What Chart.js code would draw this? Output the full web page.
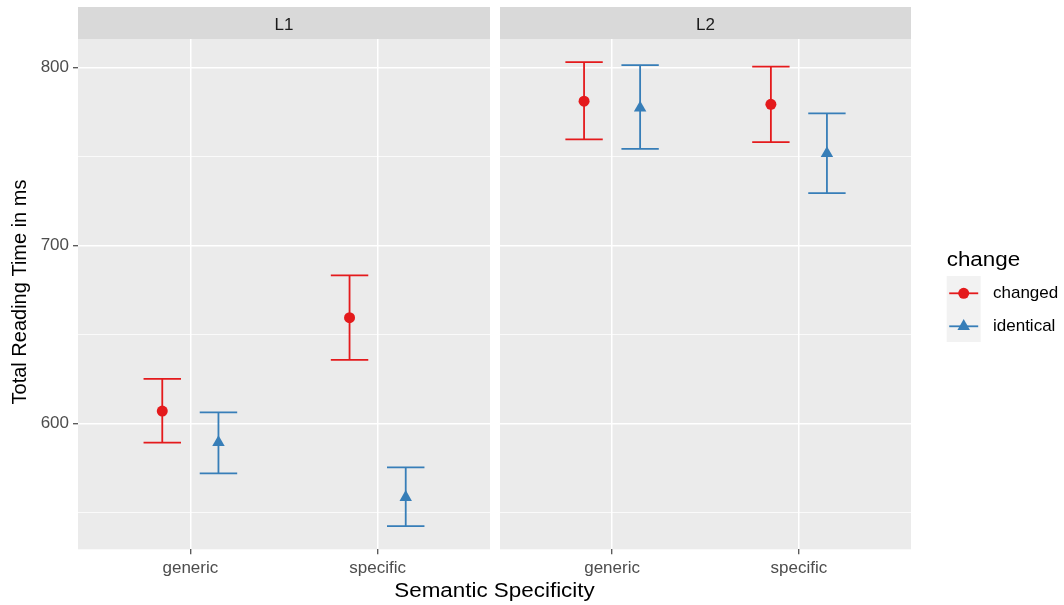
<!DOCTYPE html>
<html>
<head>
<meta charset="utf-8">
<script src="https://cdn.jsdelivr.net/npm/chart.js@4.4.1/dist/chart.umd.min.js"></script>
<style>
  html, body { margin: 0; padding: 0; background: #ffffff; }
  body { width: 1064px; height: 605px; position: relative; overflow: hidden;
         font-family: 'Liberation Sans', Arial, sans-serif; }
  canvas { position: absolute; top: 0; }
  #xtitle { position: absolute; left: 78px; width: 833px; top: 580px; height: 21px;
            line-height: 21px; font-size: 20px; text-align: center; color: #000;
            transform: scaleX(1.12); transform-origin: 50% 50%; white-space: nowrap; }
</style>
</head>
<body>
<canvas id="panelL1" width="490" height="605" style="left:0px"></canvas>
<canvas id="panelL2" width="574" height="605" style="left:490px"></canvas>
<div id="xtitle">Semantic Specificity</div>
<script>
// ---- data -------------------------------------------------------------
const categories = ['generic', 'specific'];
const panels = ['L1', 'L2'];
const groups = ['changed', 'identical'];
const yTicksMajor = [600, 700, 800];
const yTicksMinor = [550, 650, 750];

// mean reading time and its interval (lower / upper), per category
const l1ChangedMean   = [607.0, 659.5];
const l1ChangedLower  = [589.2, 635.8];
const l1ChangedUpper  = [625.1, 683.3];
const l1IdenticalMean  = [589.3, 558.5];
const l1IdenticalLower = [571.9, 542.3];
const l1IdenticalUpper = [606.2, 575.3];

const l2ChangedMean   = [781.2, 779.4];
const l2ChangedLower  = [759.7, 758.2];
const l2ChangedUpper  = [803.1, 800.6];
const l2IdenticalMean  = [777.4, 751.8];
const l2IdenticalLower = [754.4, 729.5];
const l2IdenticalUpper = [801.5, 774.3];

// ---- styling ----------------------------------------------------------
const FONT = "'Liberation Sans', Arial, sans-serif";
Chart.defaults.font.family = FONT;
const COLORS = { changed: '#E41A1C', identical: '#377EB8' };
const SHAPES = { changed: 'circle', identical: 'triangle' };
const RADII  = { changed: 5.5, identical: 7.2 };
const DODGE = 0.3;      // horizontal separation of the two groups
const CAP = 0.2;        // error bar cap width (in category units)
const BAR_WIDTH = 1.8;
const PANEL_BG = '#EBEBEB';
const STRIP_BG = '#D9D9D9';
const TICK_TEXT = '#4D4D4D';
const PANEL_TOP = 39, PANEL_BOTTOM = 549.3, STRIP_TOP = 7;
const CANVAS_H = 605;

const seriesByPanel = {
  L1: {
    changed:   { mean: l1ChangedMean,   lower: l1ChangedLower,   upper: l1ChangedUpper },
    identical: { mean: l1IdenticalMean, lower: l1IdenticalLower, upper: l1IdenticalUpper }
  },
  L2: {
    changed:   { mean: l2ChangedMean,   lower: l2ChangedLower,   upper: l2ChangedUpper },
    identical: { mean: l2IdenticalMean, lower: l2IdenticalLower, upper: l2IdenticalUpper }
  }
};

// shared y range: data extent plus 5% on each side
const allBounds = [l1ChangedLower, l1ChangedUpper, l1IdenticalLower, l1IdenticalUpper,
                   l2ChangedLower, l2ChangedUpper, l2IdenticalLower, l2IdenticalUpper].flat();
const dataMin = Math.min(...allBounds), dataMax = Math.max(...allBounds);
const yMin = dataMin - 0.05 * (dataMax - dataMin);
const yMax = dataMax + 0.05 * (dataMax - dataMin);

function buildDatasets(series) {
  return groups.map((g, gi) => ({
    label: g,
    data: categories.map((c, ci) => ({ x: ci + 1 + (gi - 0.5) * DODGE, y: series[g].mean[ci] })),
    low: series[g].lower,
    high: series[g].upper,
    pointStyle: SHAPES[g],
    pointRadius: RADII[g],
    pointHoverRadius: RADII[g],
    backgroundColor: COLORS[g],
    borderColor: COLORS[g],
    borderWidth: 0,
    showLine: false
  }));
}

function drawTriangle(ctx, x, y, r) {
  ctx.beginPath();
  for (let k = 0; k < 3; k++) {
    const a = -Math.PI / 2 + k * 2 * Math.PI / 3;
    const px = x + r * Math.cos(a), py = y + r * Math.sin(a);
    if (k === 0) ctx.moveTo(px, py); else ctx.lineTo(px, py);
  }
  ctx.closePath();
  ctx.fill();
}

// panel background + facet strip
const panelFrame = {
  id: 'panelFrame',
  beforeDraw(chart) {
    const { ctx, chartArea: a } = chart;
    ctx.save();
    ctx.fillStyle = PANEL_BG;
    ctx.fillRect(a.left, a.top, a.right - a.left, a.bottom - a.top);
    ctx.fillStyle = STRIP_BG;
    ctx.fillRect(a.left, STRIP_TOP, a.right - a.left, a.top - STRIP_TOP);
    ctx.fillStyle = '#1A1A1A';
    ctx.font = '17px ' + FONT;
    ctx.textAlign = 'center';
    ctx.textBaseline = 'alphabetic';
    ctx.fillText(chart.options.plugins.panelFrame.label, (a.left + a.right) / 2, 29.5);
    ctx.restore();
  }
};

// vertical interval bars with caps
const errorBars = {
  id: 'errorBars',
  beforeDatasetsDraw(chart) {
    const { ctx } = chart;
    const xs = chart.scales.x, ys = chart.scales.y;
    ctx.save();
    ctx.lineWidth = BAR_WIDTH;
    ctx.lineCap = 'butt';
    chart.data.datasets.forEach(ds => {
      ctx.strokeStyle = ds.borderColor;
      ds.data.forEach((p, i) => {
        const x = xs.getPixelForValue(p.x);
        const xl = xs.getPixelForValue(p.x - CAP / 2);
        const xr = xs.getPixelForValue(p.x + CAP / 2);
        const yl = ys.getPixelForValue(ds.low[i]);
        const yh = ys.getPixelForValue(ds.high[i]);
        ctx.beginPath();
        ctx.moveTo(x, yl); ctx.lineTo(x, yh);
        ctx.moveTo(xl, yl); ctx.lineTo(xr, yl);
        ctx.moveTo(xl, yh); ctx.lineTo(xr, yh);
        ctx.stroke();
      });
    });
    ctx.restore();
  }
};

// y axis title (left panel only)
const yTitle = {
  id: 'yTitle',
  afterDraw(chart) {
    const opts = chart.options.plugins.yTitle;
    if (!opts || !opts.text) return;
    const { ctx } = chart;
    ctx.save();
    ctx.translate(20.5, 292);
    ctx.rotate(-Math.PI / 2);
    ctx.fillStyle = '#000';
    ctx.font = '20px ' + FONT;
    ctx.textAlign = 'center';
    ctx.textBaseline = 'middle';
    ctx.fillText(opts.text, 0, 0);
    ctx.restore();
  }
};

// legend for the "change" groups, to the right of the last panel
const changeLegend = {
  id: 'changeLegend',
  afterDraw(chart) {
    const opts = chart.options.plugins.changeLegend;
    if (!opts || !opts.show) return;
    const { ctx } = chart;
    const ox = opts.offsetX;
    const keyLeft = 946.7 - ox, keyW = 34, keyH = 33, keyTop = 276;
    ctx.save();
    // title
    ctx.fillStyle = '#000';
    ctx.font = '20px ' + FONT;
    ctx.textAlign = 'left';
    ctx.textBaseline = 'alphabetic';
    ctx.save();
    ctx.translate(keyLeft, 266);
    ctx.scale(1.12, 1);
    ctx.fillText('change', 0, 0);
    ctx.restore();
    groups.forEach((g, gi) => {
      const top = keyTop + gi * keyH;
      const cy = top + keyH / 2 + 0.8;
      const cx = keyLeft + keyW / 2;
      ctx.fillStyle = '#F2F2F2';
      ctx.fillRect(keyLeft, top, keyW, keyH);
      ctx.strokeStyle = COLORS[g];
      ctx.lineWidth = BAR_WIDTH;
      ctx.beginPath();
      ctx.moveTo(keyLeft + 2.5, cy); ctx.lineTo(keyLeft + keyW - 2.5, cy);
      ctx.stroke();
      ctx.fillStyle = COLORS[g];
      if (SHAPES[g] === 'circle') {
        ctx.beginPath(); ctx.arc(cx, cy, RADII[g], 0, Math.PI * 2); ctx.fill();
      } else {
        drawTriangle(ctx, cx, cy, RADII[g]);
      }
      ctx.fillStyle = '#000';
      ctx.font = '17px ' + FONT;
      ctx.textBaseline = 'middle';
      ctx.fillText(g, 993 - ox, cy + 0.5);
    });
    ctx.restore();
  }
};

function isMajor(v) { return yTicksMajor.includes(v); }

function buildScales(isLeft) {
  return {
    x: {
      type: 'linear',
      min: 0.4,
      max: categories.length + 0.6,
      afterBuildTicks: s => { s.ticks = categories.map((c, i) => ({ value: i + 1 })); },
      afterFit: s => {
        s.height = CANVAS_H - PANEL_BOTTOM;
        s.paddingLeft = 0; s.paddingRight = 0;
      },
      ticks: {
        callback: v => categories[Math.round(v) - 1],
        color: TICK_TEXT,
        font: { size: 17 },
        padding: 4,
        maxRotation: 0,
        autoSkip: false
      },
      grid: {
        color: '#FFFFFF',
        lineWidth: 1.5,
        drawTicks: true,
        tickLength: 5,
        tickColor: '#333333',
        tickWidth: 1.1
      },
      border: { display: false }
    },
    y: {
      type: 'linear',
      min: yMin,
      max: yMax,
      afterBuildTicks: s => {
        s.ticks = [...yTicksMajor, ...yTicksMinor].sort((a, b) => a - b).map(v => ({ value: v }));
      },
      afterFit: s => {
        s.width = isLeft ? 78 : 10;
        s.paddingTop = 0; s.paddingBottom = 0;
      },
      ticks: {
        display: isLeft,
        callback: v => (isMajor(v) ? String(v) : ''),
        color: TICK_TEXT,
        font: { size: 17 },
        padding: 4
      },
      grid: {
        color: '#FFFFFF',
        lineWidth: c => (c.tick && isMajor(c.tick.value) ? 1.5 : 0.75),
        drawTicks: isLeft,
        tickLength: 5,
        tickColor: c => (c.tick && isMajor(c.tick.value) ? '#333333' : 'rgba(0,0,0,0)'),
        tickWidth: 1.1
      },
      border: { display: false }
    }
  };
}

function makePanel(canvasId, panelName, isLeft, rightPad, offsetX) {
  return new Chart(document.getElementById(canvasId), {
    type: 'scatter',
    data: { datasets: buildDatasets(seriesByPanel[panelName]) },
    options: {
      responsive: false,
      animation: false,
      devicePixelRatio: 1,
      layout: { autoPadding: false, padding: { top: PANEL_TOP, right: rightPad, bottom: 0, left: 0 } },
      scales: buildScales(isLeft),
      events: [],
      plugins: {
        legend: { display: false },
        tooltip: { enabled: false },
        panelFrame: { label: panelName },
        yTitle: { text: isLeft ? 'Total Reading Time in ms' : '' },
        changeLegend: { show: !isLeft, offsetX: offsetX }
      }
    },
    plugins: [panelFrame, errorBars, yTitle, changeLegend]
  });
}

makePanel('panelL1', panels[0], true, 0, 0);
makePanel('panelL2', panels[1], false, 153, 490);
</script>
</body>
</html>
